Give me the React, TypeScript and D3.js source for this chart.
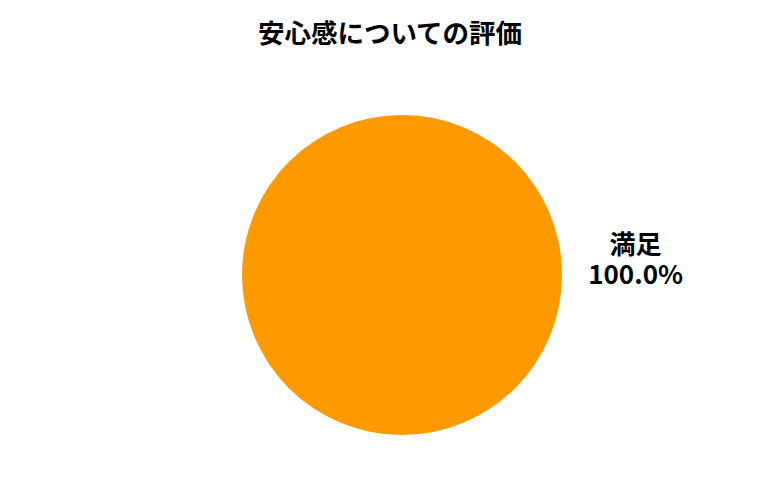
import React from 'react';
import * as d3 from 'd3';

const title = '安心感についての評価';
const categories = ['満足'];
const values = [1];
const colors = ['#FF9900'];

const width = 780;
const height = 500;
const cx = 402;
const cy = 275;
const radius = 160;

export default function App() {
  const total = d3.sum(values);
  // single slice starts at the left so its label lands on the right
  const pie = d3.pie<number>().sort(null).startAngle(-Math.PI / 2).endAngle(Math.PI * 1.5);
  const arcs = pie(values);
  const arc = d3.arc<d3.PieArcDatum<number>>().innerRadius(0).outerRadius(radius);
  const labelArc = d3.arc<d3.PieArcDatum<number>>().innerRadius(radius * 1.46).outerRadius(radius * 1.46);

  return (
    <svg width={width} height={height} style={{ display: 'block', position: 'absolute', left: 0, top: 0 }}
      fontFamily="'Noto Sans CJK JP', 'Noto Sans', sans-serif">
      <rect width={width} height={height} fill="#fff" />
      <text x={390} y={43} textAnchor="middle" fontSize={26.5} fontWeight="bold" fill="#000">{title}</text>
      <g transform={`translate(${cx},${cy})`}>
        {arcs.map((a, i) => (
          <path key={i} d={arc(a) || ''} fill={colors[i]} />
        ))}
        {arcs.map((a, i) => {
          const [lx, ly] = labelArc.centroid(a);
          return (
            <g key={'l' + i} fontSize={26} fontWeight="bold" fill="#000">
              <text x={lx} y={ly - 21} textAnchor="middle">{categories[i]}</text>
              <text x={lx} y={ly + 9} textAnchor="middle">{((values[i] / total) * 100).toFixed(1) + '%'}</text>
            </g>
          );
        })}
      </g>
    </svg>
  );
}
